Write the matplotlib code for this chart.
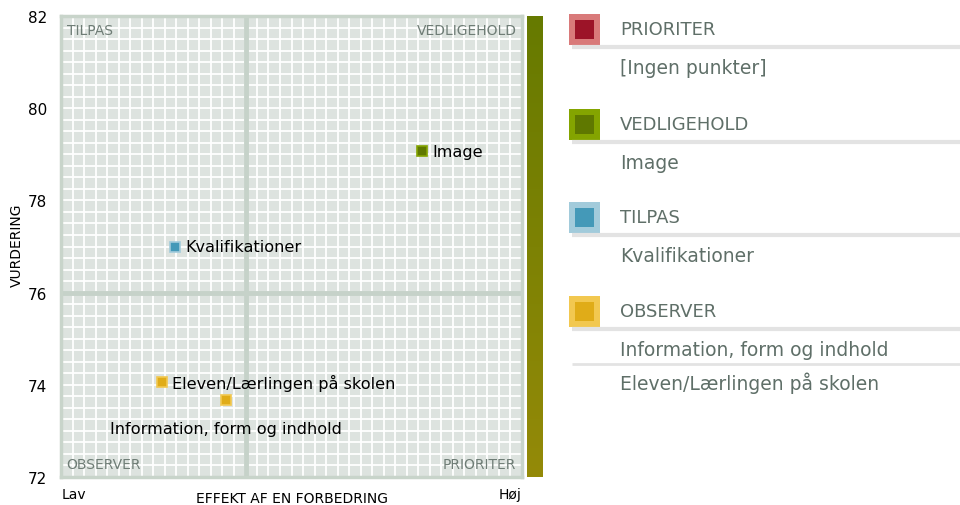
import matplotlib.pyplot as plt
import numpy as np
from matplotlib.colors import LinearSegmentedColormap

plt.rcParams.update({
    "font.family": ["DejaVu Sans"],
    "font.size": 11,
})

# ── Data ──────────────────────────────────────────────────────────────────────
names = ["Image", "Kvalifikationer", "Information, form og indhold",
         "Eleven/Lærlingen på skolen"]
effect = [0.783, 0.247, 0.358, 0.219]        # 0 = Lav, 1 = Høj
rating = [79.07, 76.99, 73.67, 74.06]

X_SPLIT = 0.401
Y_SPLIT = 76.0
Y_MIN, Y_MAX = 72, 82
y_ticks = [72, 74, 76, 78, 80, 82]

QUADRANTS = ["PRIORITER", "VEDLIGEHOLD", "TILPAS", "OBSERVER"]
FILL = {"PRIORITER": "#9c1428", "VEDLIGEHOLD": "#5f7800",
        "TILPAS": "#4499b8", "OBSERVER": "#e0ac18"}
EDGE = {"PRIORITER": "#d97a7a", "VEDLIGEHOLD": "#84a400",
        "TILPAS": "#a2cbdb", "OBSERVER": "#f2c850"}
GREY_TXT = "#5f6f68"


def quadrant(x, y):
    if y >= Y_SPLIT:
        return "VEDLIGEHOLD" if x >= X_SPLIT else "TILPAS"
    return "PRIORITER" if x >= X_SPLIT else "OBSERVER"


fig = plt.figure(figsize=(9.6, 5.06), dpi=100)
ax = fig.add_axes([61 / 960, 1 - 478 / 506, 461 / 960, 461 / 506])
ax.set_facecolor("#dde3df")
ax.set_xlim(0, 1)
ax.set_ylim(Y_MIN, Y_MAX)

# fine white grid
for v in np.linspace(0, 1, 41)[1:-1]:
    ax.axvline(v, color="white", lw=1.3, zorder=1)
for v in np.linspace(Y_MIN, Y_MAX, 41)[1:-1]:
    ax.axhline(v, color="white", lw=1.3, zorder=1)

ax.axvline(X_SPLIT, color="#c6d2c9", lw=3.5, zorder=2)
ax.axhline(Y_SPLIT, color="#c6d2c9", lw=3.5, zorder=2)

for s in ax.spines.values():
    s.set_color("#c8d4ca")
    s.set_linewidth(2.5)

ax.set_yticks(y_ticks)
ax.set_xticks([])
ax.tick_params(axis="y", length=0, pad=10, labelsize=11)
fig.text(17 / 960, 1 - 245 / 506, "VURDERING", rotation=90, fontsize=10,
         ha="center", va="center")

# quadrant corner labels
kw = dict(color="#6f7d76", fontsize=10, zorder=4)
ax.text(0.012, 0.985, "TILPAS", transform=ax.transAxes, ha="left", va="top", **kw)
ax.text(0.988, 0.985, "VEDLIGEHOLD", transform=ax.transAxes, ha="right", va="top", **kw)
ax.text(0.012, 0.012, "OBSERVER", transform=ax.transAxes, ha="left", va="bottom", **kw)
ax.text(0.988, 0.012, "PRIORITER", transform=ax.transAxes, ha="right", va="bottom", **kw)

# points
for n, x, y in zip(names, effect, rating):
    q = quadrant(x, y)
    ax.plot(x, y, marker="s", ms=7.5, mfc=FILL[q], mec=EDGE[q], mew=1.2,
            ls="none", zorder=5)
    if n.startswith("Information"):
        ax.text(x, y - 0.45, n, ha="center", va="top", fontsize=11.6, zorder=5)
    else:
        ax.text(x + 0.022, y, n, ha="left", va="center", fontsize=11.6, zorder=5)

# x-axis annotations
fig.text(62 / 960, 1 - 495 / 506, "Lav", fontsize=10, ha="left", va="center")
fig.text(521 / 960, 1 - 495 / 506, "Høj", fontsize=10, ha="right", va="center")
fig.text(292 / 960, 1 - 499 / 506, "EFFEKT AF EN FORBEDRING", fontsize=10,
         ha="center", va="center")

# gradient bar
cax = fig.add_axes([527 / 960, 1 - 478 / 506, 16 / 960, 461 / 506])
cmap = LinearSegmentedColormap.from_list("bar", ["#948a08", "#667a00"])
cax.imshow(np.linspace(0, 1, 256).reshape(-1, 1), aspect="auto", cmap=cmap,
           origin="lower", extent=[0, 1, 0, 1])
cax.set_axis_off()

# legend panel (pixel coordinates)
lax = fig.add_axes([0, 0, 1, 1], facecolor="none")
lax.set_xlim(0, 960)
lax.set_ylim(506, 0)
lax.set_axis_off()

groups = {q: [n for n, x, y in zip(names, effect, rating) if quadrant(x, y) == q]
          for q in QUADRANTS}
head_y = {"PRIORITER": 30, "VEDLIGEHOLD": 125, "TILPAS": 218, "OBSERVER": 312}

for q in QUADRANTS:
    y0 = head_y[q]
    lax.add_patch(plt.Rectangle((569, y0 - 15), 31, 31, color=EDGE[q], lw=0))
    lax.add_patch(plt.Rectangle((575, y0 - 9), 19, 19, color=FILL[q], lw=0))
    lax.text(620, y0, q, fontsize=13, color=GREY_TXT, va="center", ha="left")
    lax.plot([572, 960], [y0 + 18, y0 + 18], color="#e3e3e3", lw=3,
             solid_capstyle="butt")
    items = groups[q] or ["[Ingen punkter]"]
    yy = y0 + 38
    for i, it in enumerate(items):
        if i > 0:
            lax.plot([572, 960], [yy - 18, yy - 18], color="#e3e3e3", lw=2,
                     solid_capstyle="butt")
        lax.text(620, yy, it, fontsize=13.5, color=GREY_TXT, va="center", ha="left")
        yy += 33

fig.savefig("out.png", dpi=100)
